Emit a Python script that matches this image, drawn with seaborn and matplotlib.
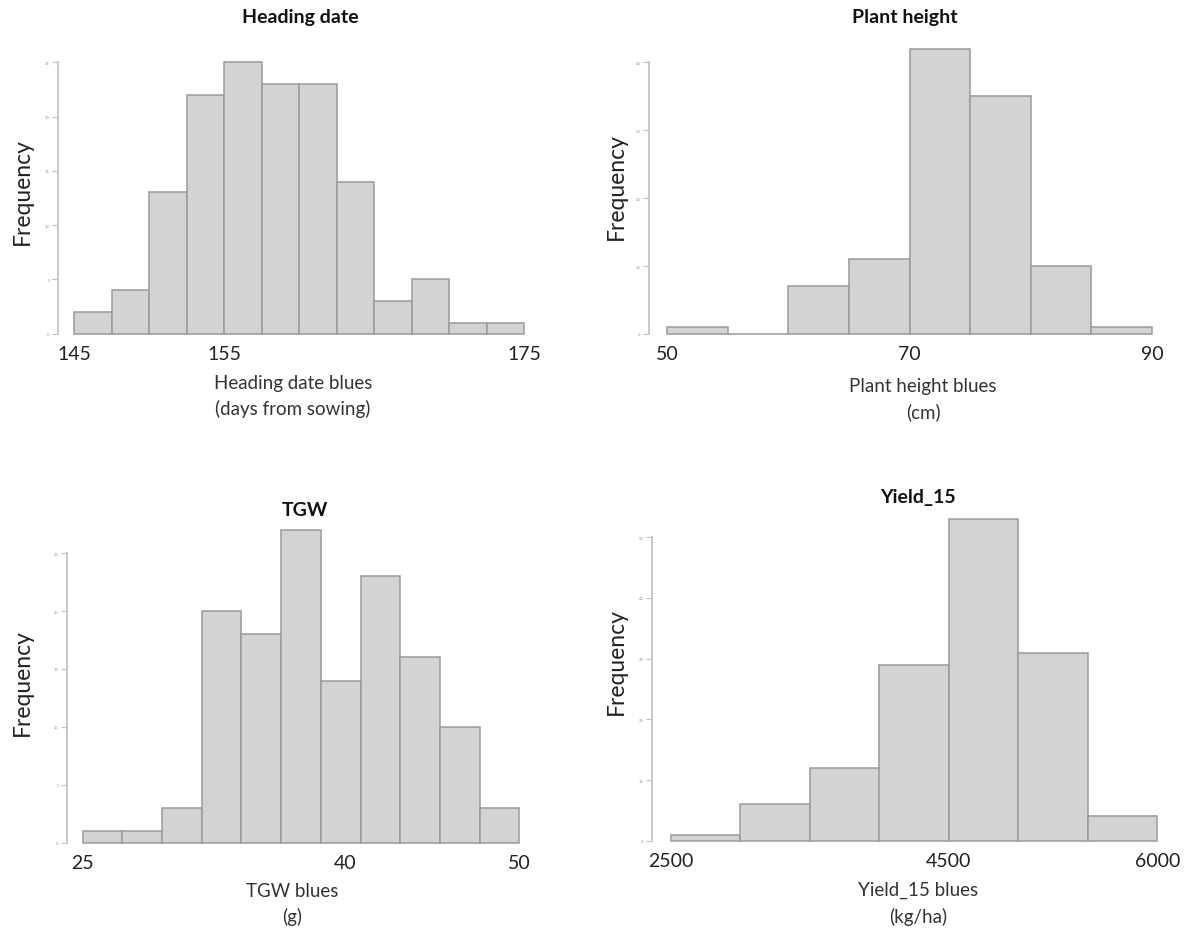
import matplotlib
matplotlib.use("Agg")
import matplotlib.pyplot as plt
import seaborn as sns
import numpy as np

sns.set_theme(style="white")
plt.rcParams['font.family'] = ['Lato', 'DejaVu Sans']

# ---------------- data ----------------
heading_edges = [145, 147.5, 150, 152.5, 155, 157.5, 160, 162.5, 165, 167.5, 170, 172.5, 175]
heading_counts = [2, 4, 13, 22, 25, 23, 23, 14, 3, 5, 1, 1]
heading_xticks = [145, 155, 175]
heading_yticks = [0, 5, 10, 15, 20, 25]

plant_edges = [50, 55, 60, 65, 70, 75, 80, 85, 90]
plant_counts = [1, 0, 7, 11, 42, 35, 10, 1]
plant_xticks = [50, 70, 90]
plant_yticks = [0, 10, 20, 30, 40]

tgw_edges = [25.0, 27.27, 29.55, 31.82, 34.09, 36.36, 38.64, 40.91, 43.18, 45.45, 47.73, 50.0]
tgw_counts = [1, 1, 3, 20, 18, 27, 14, 23, 16, 10, 3]
tgw_xticks = [25, 40, 50]
tgw_yticks = [0, 5, 10, 15, 20, 25]

yield_edges = [2500, 3000, 3500, 4000, 4500, 5000, 5500, 6000]
yield_counts = [1, 6, 12, 29, 53, 31, 4]
yield_xticks = [2500, 4500, 6000]
yield_yticks = [0, 10, 20, 30, 40, 50]

titles = ["Heading date", "Plant height", "TGW", "Yield_15"]
xlabels = ["Heading date blues\n(days from sowing)", "Plant height blues\n(cm)",
           "TGW blues\n(g)", "Yield_15 blues\n(kg/ha)"]

# ---------------- layout ----------------
W, H = 1200, 929
fig = plt.figure(figsize=(W / 100, H / 100), dpi=100)

def fx(p):
    return p / W

def fy(p):
    return 1 - p / H

panels = [
    dict(edges=heading_edges, counts=heading_counts, xt=heading_xticks, yt=heading_yticks,
         spine=58, right=530, top=50, bottom=338,
         xm=(145, 74, 175, 524), ym=(0, 334.5, 25, 63.3),
         tpos=(300, 17), ypos=(22, 192), xlpos=(293, 375)),
    dict(edges=plant_edges, counts=plant_counts, xt=plant_xticks, yt=plant_yticks,
         spine=649, right=1160, top=40, bottom=338,
         xm=(50, 667, 90, 1152), ym=(0, 335, 40, 63.3),
         tpos=(905, 17), ypos=(616, 187), xlpos=(923, 378)),
    dict(edges=tgw_edges, counts=tgw_counts, xt=tgw_xticks, yt=tgw_yticks,
         spine=67, right=525, top=522, bottom=847,
         xm=(25, 82.7, 50, 519.3), ym=(0, 843.5, 25, 554.3),
         tpos=(305, 510), ypos=(22, 683), xlpos=(292, 883)),
    dict(edges=yield_edges, counts=yield_counts, xt=yield_xticks, yt=yield_yticks,
         spine=652, right=1165, top=510, bottom=845,
         xm=(2500, 670.7, 6000, 1157.3), ym=(0, 841.7, 50, 538.3),
         tpos=(918, 498), ypos=(616, 662), xlpos=(918, 882)),
]

def inv(m, p):
    v0, p0, v1, p1 = m
    return v0 + (p - p0) * (v1 - v0) / (p1 - p0)

for i, P in enumerate(panels):
    ax = fig.add_axes([fx(P['spine']), fy(P['bottom']),
                       fx(P['right'] - P['spine']), (P['bottom'] - P['top']) / H])
    edges = np.array(P['edges'])
    centers = (edges[:-1] + edges[1:]) / 2
    sns.histplot(x=centers, weights=P['counts'], bins=P['edges'], ax=ax,
                 color='#d3d3d3', edgecolor='#9a9a9a', linewidth=1.1, alpha=1)
    ax.set_xlim(inv(P['xm'], P['spine']), inv(P['xm'], P['right']))
    ax.set_ylim(inv(P['ym'], P['bottom']), inv(P['ym'], P['top']))
    for s in ['top', 'right', 'bottom']:
        ax.spines[s].set_visible(False)
    ax.spines['left'].set_color('#c8c8c8')
    ax.spines['left'].set_linewidth(1.4)
    ax.spines['left'].set_bounds(P['yt'][0], P['yt'][-1])
    ax.set_yticks(P['yt'])
    ax.set_xticks(P['xt'])
    ax.set_xticklabels([str(v) for v in P['xt']])
    ax.tick_params(axis='y', length=4, width=0.8, color='#c0c0c0', pad=2,
                   labelsize=3, labelcolor='#909090', left=True)
    ax.tick_params(axis='x', length=0, pad=6, labelsize=14, labelcolor='#222222')
    ax.set_ylabel("")
    ax.set_xlabel(xlabels[i], fontsize=13.5, color='#333333', linespacing=1.55)
    ax.xaxis.set_label_coords(fx(P['xlpos'][0]), fy(P['xlpos'][1]), transform=fig.transFigure)
    ax.grid(False)
    fig.text(fx(P['tpos'][0]), fy(P['tpos'][1]), titles[i], ha='center', va='center',
             fontsize=14, fontweight='bold', color='#111111')
    fig.text(fx(P['ypos'][0]), fy(P['ypos'][1]), "Frequency", rotation=90,
             ha='center', va='center', fontsize=16.5, color='#222222')

fig.savefig("out.png", dpi=100, facecolor='white')
